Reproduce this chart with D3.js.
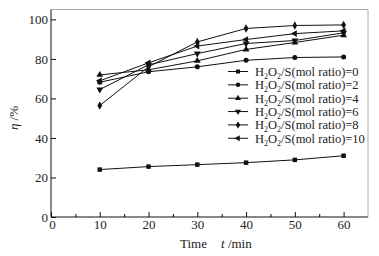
<!DOCTYPE html>
<html>
<head>
<meta charset="utf-8">
<script src="https://cdn.jsdelivr.net/npm/d3@7"></script>
<style>
  body { margin: 0; background: #fff; }
  text { font-family: "Liberation Serif", "DejaVu Serif", serif; fill: #222; }
</style>
</head>
<body>
<div class="container"></div>
<script>
const times = [10, 20, 30, 40, 50, 60];
const ratios = [0, 2, 4, 6, 8, 10];
const eta0 = [24, 25.5, 26.5, 27.5, 28.9, 31];
const eta2 = [68.2, 73.5, 76, 79.3, 80.7, 81];
const eta4 = [71.9, 74.5, 79, 84.8, 88.3, 92];
const eta6 = [64.5, 77, 82.7, 87.8, 89.3, 93.2];
const eta8 = [56.4, 76, 88.6, 95.4, 96.9, 97.2];
const eta10 = [68.9, 78, 86.5, 89.8, 92.8, 94.2];
const xTicks = [0, 10, 20, 30, 40, 50, 60];
const yTicks = [0, 20, 40, 60, 80, 100];

const series = [eta0, eta2, eta4, eta6, eta8, eta10];
const symbols = [d3.symbolSquare, d3.symbolCircle, d3.symbolTriangle, "down", d3.symbolDiamond, "left"];

const W = 379, H = 256;
const margin = { top: 9.5, right: 11, bottom: 39, left: 51 };

const svg = d3.select(".container").append("svg")
  .attr("width", W).attr("height", H);

const x = d3.scaleLinear().domain([0, 65]).range([margin.left, W - margin.right]);
const y = d3.scaleLinear().domain([0, 105]).range([H - margin.bottom, margin.top]);

// frame: top and right in grey
svg.append("line")
  .attr("x1", x(0)).attr("x2", x(65)).attr("y1", y(105)).attr("y2", y(105))
  .attr("stroke", "#aaa");
svg.append("line")
  .attr("x1", x(65)).attr("x2", x(65)).attr("y1", y(105)).attr("y2", y(0))
  .attr("stroke", "#aaa");

// axes, ticks pointing inward
const xAxis = svg.append("g")
  .attr("transform", `translate(0,${y(0)})`)
  .call(d3.axisBottom(x).tickValues(xTicks).tickSize(-5).tickPadding(3).tickFormat(d3.format("d")));
svg.append("g")
  .attr("transform", `translate(0,${y(0)})`)
  .call(d3.axisBottom(x).tickValues([5, 15, 25, 35, 45, 55]).tickSize(-3).tickFormat(""))
  .call(g => g.select(".domain").remove());
const yAxis = svg.append("g")
  .attr("transform", `translate(${x(0)},0)`)
  .call(d3.axisLeft(y).tickValues(yTicks).tickSize(-5).tickPadding(3));

[xAxis, yAxis].forEach(g => {
  g.attr("font-family", null);
  g.select(".domain").attr("stroke", "#111");
  g.selectAll("text").style("font-size", "13px").attr("fill", "#222");
  g.selectAll(".tick line").attr("stroke", "#111");
});
xAxis.select(".domain").attr("d", `M${x(0)},0H${x(65)}`);
yAxis.select(".domain").attr("d", `M0,${y(0)}V${y(105)}`);
xAxis.selectAll(".tick text").filter(d => d === 0).attr("dx", 1);

const drawMarker = (g, s, size) => {
  if (s === "down" || s === "left") {
    g.append("path")
      .attr("d", d3.symbol(d3.symbolTriangle, size)())
      .attr("transform", s === "down" ? "rotate(180)" : "rotate(-90)");
  } else {
    g.append("path").attr("d", d3.symbol(s, size)());
  }
};

const line = d3.line().x((d, i) => x(times[i])).y(d => y(d));

series.forEach((vals, k) => {
  svg.append("path")
    .datum(vals)
    .attr("d", line)
    .attr("fill", "none")
    .attr("stroke", "#111")
    .attr("stroke-width", 1);
  vals.forEach((v, i) => {
    const g = svg.append("g")
      .attr("transform", `translate(${x(times[i])},${y(v)})`)
      .attr("fill", "#111");
    drawMarker(g, symbols[k], 20);
  });
});

// legend
const legend = svg.append("g");
ratios.forEach((r, k) => {
  const ly = 71.5 + k * 13.35;
  legend.append("line")
    .attr("x1", 228).attr("x2", 248).attr("y1", ly).attr("y2", ly)
    .attr("stroke", "#111");
  const g = legend.append("g").attr("transform", `translate(238,${ly})`).attr("fill", "#111");
  drawMarker(g, symbols[k], 16);
  const t = legend.append("text")
    .attr("x", 255).attr("y", ly + 4.5)
    .style("font-size", "12.5px");
  t.append("tspan").text("H");
  t.append("tspan").attr("dy", 3).style("font-size", "8px").text("2");
  t.append("tspan").attr("dy", -3).text("O");
  t.append("tspan").attr("dy", 3).style("font-size", "8px").text("2");
  t.append("tspan").attr("dy", -3).text(`/S(mol ratio)=${r}`);
});

// axis titles
const yl = svg.append("text")
  .attr("transform", `translate(18,118) rotate(-90)`)
  .attr("text-anchor", "middle")
  .style("font-size", "13px");
yl.append("tspan").style("font-style", "italic").text("η");
yl.append("tspan").text(" /%");

const xl = svg.append("text")
  .attr("x", 180).attr("y", 248)
  .style("font-size", "13px");
xl.append("tspan").text("Time");
xl.append("tspan").attr("x", 221).style("font-style", "italic").text("t");
xl.append("tspan").text(" /min");
</script>
</body>
</html>
